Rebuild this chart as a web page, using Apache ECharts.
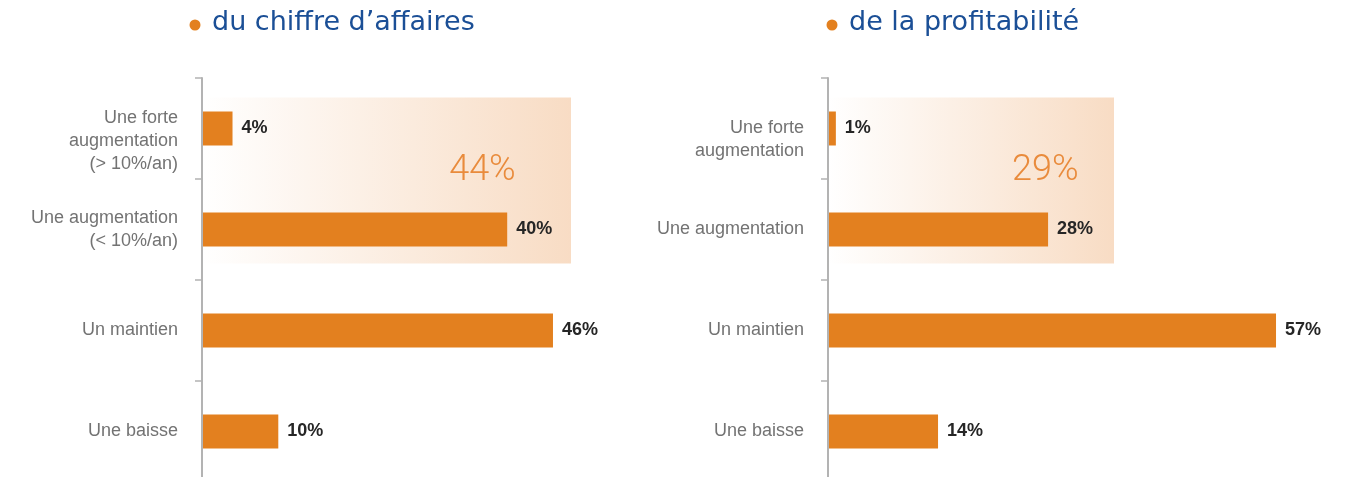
<!DOCTYPE html>
<html>
<head>
<meta charset="UTF-8" />
<title>Evolution attendue</title>
<script src="https://cdn.jsdelivr.net/npm/echarts@6/dist/echarts.min.js"></script>
<style>
    html, body { margin: 0; padding: 0; background: #fff; }
    #main { width: 1361px; height: 477px; }
</style>
</head>
<body>
<div id="main"></div>
<script>
// données
var categoriesCA = ['Une forte\naugmentation\n(> 10%/an)', 'Une augmentation\n(< 10%/an)', 'Un maintien', 'Une baisse'];
var valuesCA = [4, 40, 46, 10];
var categoriesProfit = ['Une forte\naugmentation', 'Une augmentation', 'Un maintien', 'Une baisse'];
var valuesProfit = [1, 28, 57, 14];
var titles = ['du chiffre d\u2019affaires', 'de la profitabilité'];

var orange = '#e3801f',
    blue = '#1b4f96',
    grey = '#737373',
    axisGrey = '#b3b3b3';

function makeY(idx, cats) {
    return {
        type: 'category',
        gridIndex: idx,
        data: cats,
        inverse: true,
        z: 5,
        axisLine: { lineStyle: { color: axisGrey, width: 2 } },
        axisTick: { show: true, length: 7, lineStyle: { color: axisGrey, width: 1.5 } },
        axisLabel: {
            margin: 24,
            color: grey,
            fontSize: 18,
            lineHeight: 23,
            fontFamily: 'Liberation Sans',
            // la première modalité est un peu plus basse dans l'original
            formatter: function(v, i) {
                return i === 0 ? '{sp| }\n' + v : v;
            },
            rich: { sp: { fontSize: 4, lineHeight: idx === 0 ? 26 : 22 } }
        }
    };
}

function makeX(idx, max) {
    return { type: 'value', gridIndex: idx, min: 0, max: max, show: false };
}

function makeSeries(idx, vals) {
    return {
        type: 'bar',
        xAxisIndex: idx,
        yAxisIndex: idx,
        data: vals,
        barWidth: 34,
        z: 3,
        itemStyle: { color: orange },
        label: {
            show: true,
            position: 'right',
            distance: 9,
            formatter: '{c}%',
            fontWeight: 'bold',
            fontSize: 18,
            color: '#262626',
            fontFamily: 'Liberation Sans'
        }
    };
}

var titleStyle = { color: blue, fontSize: 27, fontWeight: 'normal', fontFamily: 'DejaVu Sans' };

var myChart = echarts.init(document.getElementById('main'));

myChart.setOption({
    animation: false,
    title: [
        { text: titles[0], left: 212, top: 9, padding: 0, textStyle: titleStyle },
        { text: titles[1], left: 849, top: 9, padding: 0, textStyle: titleStyle }
    ],
    grid: [
        { left: 202, top: 78, width: 50 * 7.63, height: 404, outerBoundsMode: 'none' },
        { left: 828, top: 78, width: 60 * 7.86, height: 404, outerBoundsMode: 'none' }
    ],
    xAxis: [makeX(0, 50), makeX(1, 60)],
    yAxis: [makeY(0, categoriesCA), makeY(1, categoriesProfit)],
    series: [makeSeries(0, valuesCA), makeSeries(1, valuesProfit)]
});

// bandeau dégradé + total des deux premières modalités
var hlWidth = [369, 286];
var totals = [valuesCA[0] + valuesCA[1], valuesProfit[0] + valuesProfit[1]];
var graphics = [];
for (var g = 0; g < 2; g++) {
    var p0 = myChart.convertToPixel({ gridIndex: g }, [0, 0]);
    var p1 = myChart.convertToPixel({ gridIndex: g }, [0, 1]);
    var hlTop = p0[1] - 31,
        hlBottom = p1[1] + 34;
    graphics.push({
        type: 'rect',
        z: -10,
        shape: { x: p0[0], y: hlTop, width: hlWidth[g], height: hlBottom - hlTop },
        style: {
            fill: {
                type: 'linear', x: 0, y: 0, x2: 1, y2: 0,
                colorStops: [
                    { offset: 0, color: '#ffffff' },
                    { offset: 1, color: '#f8dcc4' }
                ]
            }
        }
    });
    graphics.push({
        type: 'text',
        z: 2,
        x: p0[0] + hlWidth[g] * 0.76,
        y: p0[1] + 42,
        style: {
            text: totals[g] + '%',
            fill: '#e98b3c',
            fontSize: 36,
            fontWeight: 300,
            fontFamily: 'Roboto',
            align: 'center',
            verticalAlign: 'middle'
        }
    });
    // puce orange devant le titre
    graphics.push({
        type: 'circle',
        shape: { cx: g === 0 ? 195 : 832, cy: 25, r: 5.5 },
        style: { fill: orange }
    });
}
myChart.setOption({ graphic: graphics });
</script>
</body>
</html>
